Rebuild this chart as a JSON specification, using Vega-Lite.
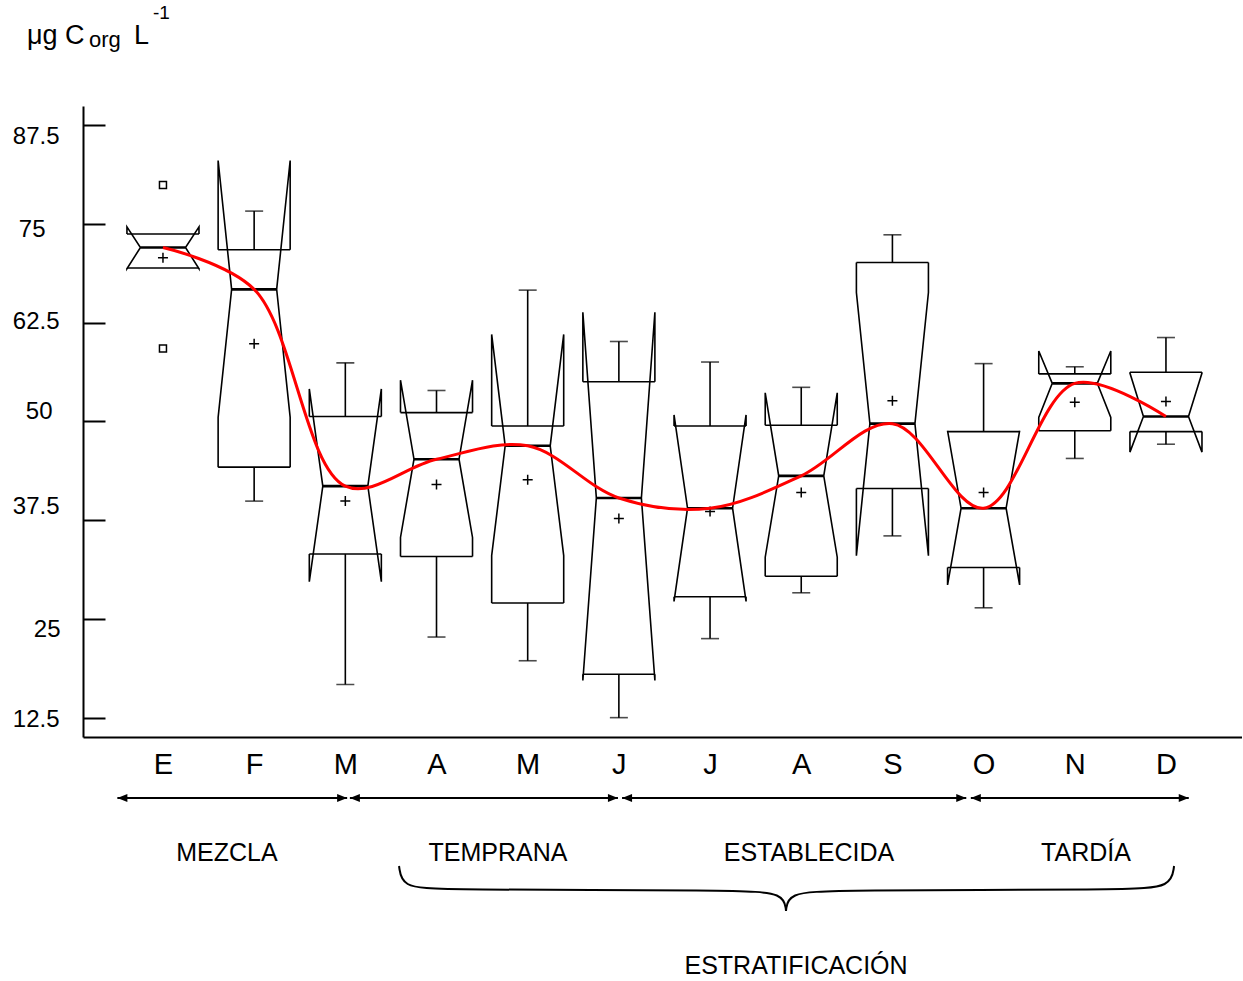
{
  "$schema": "https://vega.github.io/schema/vega-lite/v6.json",
  "padding": {"left": 12, "top": 3, "right": 0, "bottom": 0},
  "bounds": "flush",
  "spacing": 4,
  "background": "white",
  "config": {
    "font": "Liberation Sans",
    "view": {"stroke": null},
    "axis": {"grid": false, "domainColor": "black", "domainWidth": 2, "labelColor": "black", "tickColor": "black", "title": null}
  },
  "datasets": {
    "stats": [
      {"mes": "E", "m": 1, "lo": null, "q1": 69.4, "nlo": 69.3, "med": 72.0, "nhi": 74.6, "q3": 73.7, "hi": null, "mean": 70.7},
      {"mes": "F", "m": 2, "lo": 39.9, "q1": 44.2, "nlo": 50.5, "med": 66.7, "nhi": 83.0, "q3": 71.7, "hi": 76.6, "mean": 59.8},
      {"mes": "M", "m": 3, "lo": 16.7, "q1": 33.2, "nlo": 29.7, "med": 41.8, "nhi": 54.1, "q3": 50.6, "hi": 57.4, "mean": 39.9},
      {"mes": "A", "m": 4, "lo": 22.7, "q1": 32.9, "nlo": 35.3, "med": 45.2, "nhi": 55.2, "q3": 51.1, "hi": 53.9, "mean": 42.0},
      {"mes": "M", "m": 5, "lo": 19.7, "q1": 27.0, "nlo": 33.0, "med": 46.9, "nhi": 61.0, "q3": 49.4, "hi": 66.6, "mean": 42.6},
      {"mes": "J", "m": 6, "lo": 12.5, "q1": 18.0, "nlo": 17.2, "med": 40.3, "nhi": 63.8, "q3": 55.0, "hi": 60.1, "mean": 37.7},
      {"mes": "J", "m": 7, "lo": 22.5, "q1": 27.8, "nlo": 27.2, "med": 39.0, "nhi": 50.8, "q3": 49.4, "hi": 57.5, "mean": 38.6},
      {"mes": "A", "m": 8, "lo": 28.3, "q1": 30.4, "nlo": 32.8, "med": 43.1, "nhi": 53.6, "q3": 49.5, "hi": 54.3, "mean": 41.0},
      {"mes": "S", "m": 9, "lo": 35.5, "q1": 41.5, "nlo": 33.0, "med": 49.7, "nhi": 66.3, "q3": 70.1, "hi": 73.6, "mean": 52.6},
      {"mes": "O", "m": 10, "lo": 26.4, "q1": 31.5, "nlo": 29.3, "med": 39.0, "nhi": 48.8, "q3": 48.7, "hi": 57.3, "mean": 41.0},
      {"mes": "N", "m": 11, "lo": 45.3, "q1": 48.8, "nlo": 50.5, "med": 54.8, "nhi": 58.9, "q3": 56.0, "hi": 56.9, "mean": 52.4},
      {"mes": "D", "m": 12, "lo": 47.1, "q1": 48.7, "nlo": 46.1, "med": 50.6, "nhi": 56.1, "q3": 56.2, "hi": 60.6, "mean": 52.5}
    ],
    "outliers": [{"m": 1, "v": 79.9}, {"m": 1, "v": 59.2}],
    "phases": [
      {"phase": "MEZCLA", "a": 0.5, "b": 3.02, "c": 1.702},
      {"phase": "TEMPRANA", "a": 3.05, "b": 5.99, "c": 4.674},
      {"phase": "ESTABLECIDA", "a": 6.035, "b": 9.81, "c": 8.085},
      {"phase": "TARDÍA", "a": 9.86, "b": 12.25, "c": 11.123}
    ],
    "brace": [
      {"side": "L", "i": 0, "x": 3.589, "y": 12.5},
      {"side": "L", "i": 1, "x": 3.622, "y": 14.6},
      {"side": "L", "i": 2, "x": 4.027, "y": 14.9},
      {"side": "L", "i": 3, "x": 7.318, "y": 14.9},
      {"side": "L", "i": 4, "x": 7.811, "y": 15.2},
      {"side": "L", "i": 5, "x": 7.833, "y": 17.0},
      {"side": "R", "i": 0, "x": 7.833, "y": 17.0},
      {"side": "R", "i": 1, "x": 7.855, "y": 15.2},
      {"side": "R", "i": 2, "x": 8.349, "y": 14.9},
      {"side": "R", "i": 3, "x": 11.595, "y": 14.9},
      {"side": "R", "i": 4, "x": 12.056, "y": 14.6},
      {"side": "R", "i": 5, "x": 12.089, "y": 12.5}
    ]
  },
  "vconcat": [
    {
      "width": 1159,
      "height": 631,
      "layer": [
        {
          "data": {"name": "stats"},
          "transform": [{"filter": "datum.hi != null"}],
          "mark": {"type": "rule", "color": "black", "strokeWidth": 1.6},
          "encoding": {
            "x": {"field": "m", "type": "quantitative",
              "scale": {"domain": [0.123, 12.834], "nice": false, "zero": false},
              "axis": {"values": [1,2,3,4,5,6,7,8,9,10,11,12], "labelExpr": "['E','F','M','A','M','J','J','A','S','O','N','D'][datum.value-1]", "ticks": false, "labelFontSize": 29, "labelPadding": 13, "labelFlush": false, "labelOverlap": false}},
            "y": {"field": "q3", "type": "quantitative",
              "scale": {"domain": [10.05, 89.9], "nice": false, "zero": false},
              "axis": {"values": [12.5, 25, 37.5, 50, 62.5, 75, 87.5], "labelExpr": "toString(datum.value)", "tickSize": -22, "tickWidth": 2, "labelFontSize": 24, "labelAlign": "right", "labelBaseline": "middle",
                "labelOffset": {"condition": [
                  {"test": "datum.value == 87.5", "value": 12},
                  {"test": "datum.value == 75", "value": 5.5},
                  {"test": "datum.value == 62.5", "value": -1},
                  {"test": "datum.value == 50", "value": -9.5},
                  {"test": "datum.value == 37.5", "value": -14},
                  {"test": "datum.value == 25", "value": 11}
                ], "value": 2},
                "labelPadding": {"condition": [
                  {"test": "datum.value == 75", "value": 60},
                  {"test": "datum.value == 50", "value": 53},
                  {"test": "datum.value == 25", "value": 45}
                ], "value": 46}}},
            "y2": {"field": "hi"}
          }
        },
        {
          "data": {"name": "stats"},
          "transform": [{"filter": "datum.lo != null"}],
          "mark": {"type": "rule", "color": "black", "strokeWidth": 1.6},
          "encoding": {
            "x": {"field": "m", "type": "quantitative"},
            "y": {"field": "lo", "type": "quantitative"},
            "y2": {"field": "q1"}
          }
        },
        {
          "data": {"name": "stats"},
          "transform": [{"fold": ["lo", "hi"], "as": ["k", "v"]}, {"filter": "datum.v != null"}],
          "mark": {"type": "tick", "orient": "horizontal", "size": 18, "thickness": 1.6, "color": "black"},
          "encoding": {
            "x": {"field": "m", "type": "quantitative"},
            "y": {"field": "v", "type": "quantitative"}
          }
        },
        {
          "data": {"name": "stats"},
          "transform": [
            {"fold": ["q3", "nhi", "med", "nlo", "q1"], "as": ["k", "v"]},
            {"calculate": "indexof(['q3','nhi','med','nlo','q1'], datum.k)", "as": "idx"},
            {"calculate": "datum.m - (datum.k == 'med' ? 0.247 : 0.395)", "as": "xl"}
          ],
          "mark": {"type": "line", "color": "black", "strokeWidth": 1.6},
          "encoding": {
            "x": {"field": "xl", "type": "quantitative"},
            "y": {"field": "v", "type": "quantitative"},
            "detail": {"field": "m"},
            "order": {"field": "idx"}
          }
        },
        {
          "data": {"name": "stats"},
          "transform": [
            {"fold": ["q3", "nhi", "med", "nlo", "q1"], "as": ["k", "v"]},
            {"calculate": "indexof(['q3','nhi','med','nlo','q1'], datum.k)", "as": "idx"},
            {"calculate": "datum.m + (datum.k == 'med' ? 0.247 : 0.395)", "as": "xr"}
          ],
          "mark": {"type": "line", "color": "black", "strokeWidth": 1.6},
          "encoding": {
            "x": {"field": "xr", "type": "quantitative"},
            "y": {"field": "v", "type": "quantitative"},
            "detail": {"field": "m"},
            "order": {"field": "idx"}
          }
        },
        {
          "data": {"name": "stats"},
          "transform": [
            {"fold": ["q1", "q3"], "as": ["k", "v"]},
            {"calculate": "datum.m - 0.395", "as": "b1"},
            {"calculate": "datum.m + 0.395", "as": "b2"}
          ],
          "mark": {"type": "rule", "color": "black", "strokeWidth": 1.6},
          "encoding": {
            "x": {"field": "b1", "type": "quantitative"},
            "x2": {"field": "b2"},
            "y": {"field": "v", "type": "quantitative"}
          }
        },
        {
          "data": {"name": "stats"},
          "transform": [
            {"calculate": "datum.m - 0.247", "as": "c1"},
            {"calculate": "datum.m + 0.247", "as": "c2"}
          ],
          "mark": {"type": "rule", "color": "black", "strokeWidth": 2.6},
          "encoding": {
            "x": {"field": "c1", "type": "quantitative"},
            "x2": {"field": "c2"},
            "y": {"field": "med", "type": "quantitative"}
          }
        },
        {
          "data": {"name": "stats"},
          "mark": {"type": "point", "shape": "M-1,0H1M0,-1V1", "size": 100, "filled": false, "color": "black", "strokeWidth": 1.5, "opacity": 1},
          "encoding": {
            "x": {"field": "m", "type": "quantitative"},
            "y": {"field": "mean", "type": "quantitative"}
          }
        },
        {
          "data": {"name": "outliers"},
          "mark": {"type": "point", "shape": "square", "size": 49, "filled": false, "color": "black", "strokeWidth": 1.5, "opacity": 1},
          "encoding": {
            "x": {"field": "m", "type": "quantitative"},
            "y": {"field": "v", "type": "quantitative"}
          }
        },
        {
          "data": {"name": "stats"},
          "mark": {"type": "line", "color": "#ff0000", "strokeWidth": 3, "interpolate": "catmull-rom"},
          "encoding": {
            "x": {"field": "m", "type": "quantitative"},
            "y": {"field": "med", "type": "quantitative"}
          }
        },
        {
          "data": {"values": [{"t": "μg C"}]},
          "mark": {"type": "text", "align": "left", "baseline": "alphabetic", "fontSize": 27, "color": "black"},
          "encoding": {
            "x": {"datum": -0.491, "type": "quantitative"},
            "y": {"datum": 97.75, "type": "quantitative"},
            "text": {"field": "t"}
          }
        },
        {
          "data": {"values": [{"t": "org"}]},
          "mark": {"type": "text", "align": "left", "baseline": "alphabetic", "fontSize": 22, "color": "black", "dx": 62, "dy": 3},
          "encoding": {
            "x": {"datum": -0.491, "type": "quantitative"},
            "y": {"datum": 97.75, "type": "quantitative"},
            "text": {"field": "t"}
          }
        },
        {
          "data": {"values": [{"t": "L"}]},
          "mark": {"type": "text", "align": "left", "baseline": "alphabetic", "fontSize": 27, "color": "black", "dx": 107},
          "encoding": {
            "x": {"datum": -0.491, "type": "quantitative"},
            "y": {"datum": 97.75, "type": "quantitative"},
            "text": {"field": "t"}
          }
        },
        {
          "data": {"values": [{"t": "-1"}]},
          "mark": {"type": "text", "align": "left", "baseline": "alphabetic", "fontSize": 19, "color": "black", "dx": 126, "dy": -25},
          "encoding": {
            "x": {"datum": -0.491, "type": "quantitative"},
            "y": {"datum": 97.75, "type": "quantitative"},
            "text": {"field": "t"}
          }
        }
      ]
    },
    {
      "width": 1159,
      "height": 240,
      "layer": [
        {
          "data": {"name": "phases"},
          "mark": {"type": "rule", "color": "black", "strokeWidth": 2},
          "encoding": {
            "x": {"field": "a", "type": "quantitative", "scale": {"domain": [0.123, 12.834], "nice": false, "zero": false}, "axis": null},
            "x2": {"field": "b"},
            "y": {"datum": 5.7, "type": "quantitative", "scale": {"domain": [0, 24], "reverse": true, "nice": false, "zero": false}, "axis": null}
          }
        },
        {
          "data": {"name": "phases"},
          "mark": {"type": "point", "shape": "M0,0L2,-0.8L2,0.8Z", "size": 100, "filled": true, "color": "black", "opacity": 1},
          "encoding": {
            "x": {"field": "a", "type": "quantitative"},
            "y": {"datum": 5.7, "type": "quantitative"}
          }
        },
        {
          "data": {"name": "phases"},
          "mark": {"type": "point", "shape": "M0,0L-2,-0.8L-2,0.8Z", "size": 100, "filled": true, "color": "black", "opacity": 1},
          "encoding": {
            "x": {"field": "b", "type": "quantitative"},
            "y": {"datum": 5.7, "type": "quantitative"}
          }
        },
        {
          "data": {"name": "phases"},
          "mark": {"type": "text", "align": "center", "baseline": "middle", "fontSize": 25, "color": "black"},
          "encoding": {
            "x": {"field": "c", "type": "quantitative"},
            "y": {"datum": 11.2, "type": "quantitative"},
            "text": {"field": "phase"}
          }
        },
        {
          "data": {"name": "brace"},
          "mark": {"type": "line", "color": "black", "strokeWidth": 2, "interpolate": "basis"},
          "encoding": {
            "x": {"field": "x", "type": "quantitative"},
            "y": {"field": "y", "type": "quantitative"},
            "detail": {"field": "side"},
            "order": {"field": "i"}
          }
        },
        {
          "data": {"values": [{"t": "ESTRATIFICACIÓN", "c": 7.943}]},
          "mark": {"type": "text", "align": "center", "baseline": "middle", "fontSize": 25, "color": "black"},
          "encoding": {
            "x": {"field": "c", "type": "quantitative"},
            "y": {"datum": 22.5, "type": "quantitative"},
            "text": {"field": "t"}
          }
        }
      ]
    }
  ]
}
